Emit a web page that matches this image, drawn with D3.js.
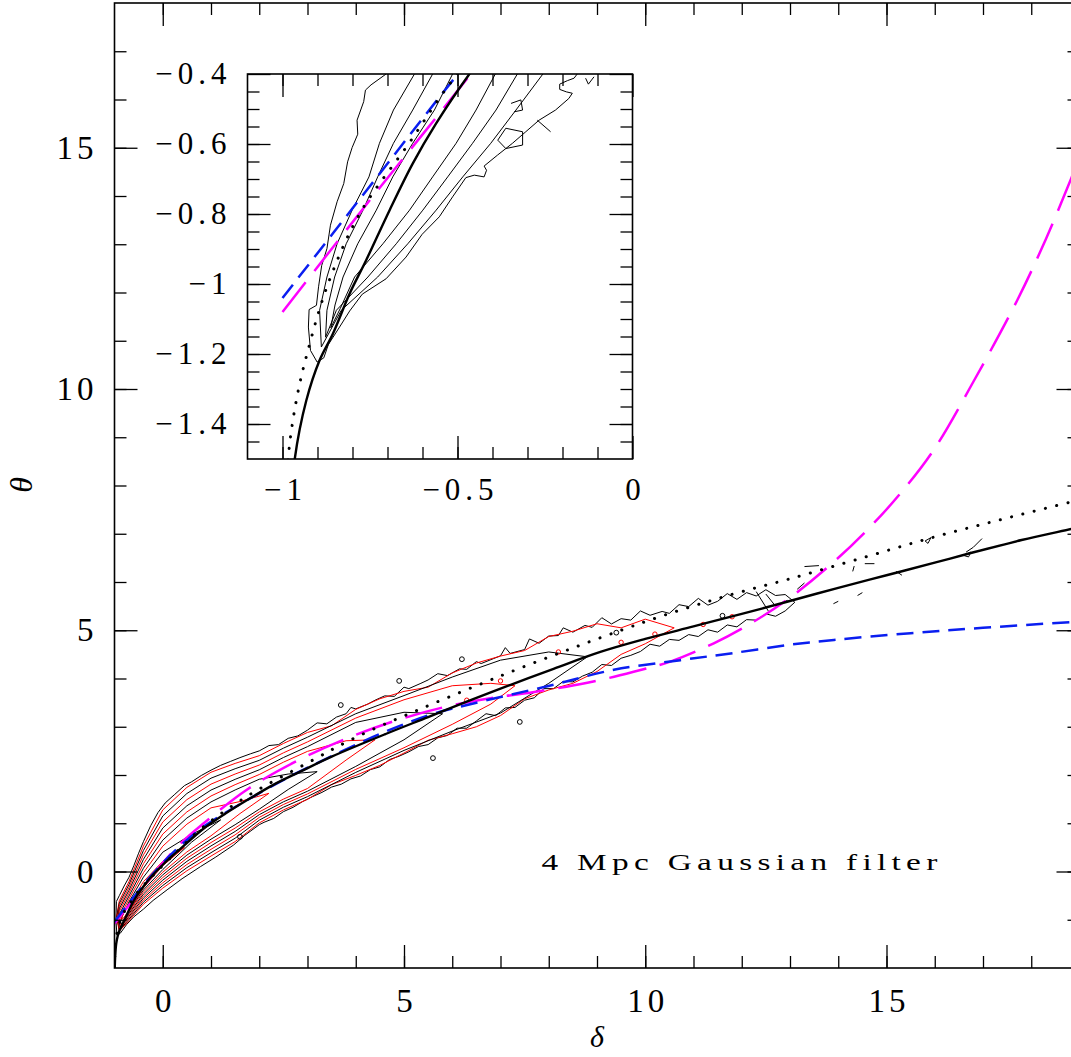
<!DOCTYPE html>
<html>
<head>
<meta charset="utf-8">
<script src="https://cdn.jsdelivr.net/npm/d3@7"></script>
<style>
  body { margin: 0; background: #fff; }
  svg { display: block; }
  .lab { font-family: "Liberation Serif", "DejaVu Serif", serif; fill: #000; }
</style>
</head>
<body>
<svg id="chart" width="1071" height="1057"></svg>
<script>
// ---------- fitted relations theta(delta) ----------
const solidFit = [[-0.995,-2.0],[-0.985,-1.75],[-0.965,-1.5],[-0.932,-1.333],[-0.894,-1.218],[-0.856,-1.142],[-0.808,-1.027],[-0.761,-0.932],[-0.694,-0.789],[-0.628,-0.656],[-0.561,-0.541],[-0.466,-0.4],[-0.3,-0.18],[0,0.14],[0.4,0.5],[0.85,0.89],[1.3,1.2],[1.75,1.48],[2.3,1.8],[2.85,2.07],[3.5,2.38],[4.62,2.85],[5.5,3.2],[6.3,3.52],[7.21,3.87],[8.1,4.2],[9.07,4.55],[10,4.82],[11,5.08],[12,5.34],[12.94,5.59],[14,5.88],[15,6.14],[16,6.4],[16.67,6.58],[17.8,6.87],[18.83,7.1],[19,7.14]];
const dottedFit = [[-0.999,-2.0],[-0.995,-1.8],[-0.984,-1.5],[-0.96,-1.33],[-0.93,-1.2],[-0.87,-1.0],[-0.78,-0.8],[-0.64,-0.6],[-0.5,-0.4],[-0.2,-0.08],[0.3,0.42],[0.85,0.93],[1.75,1.56],[3.0,2.25],[4.0,2.78],[5.2,3.31],[6.5,3.85],[7.5,4.25],[8.52,4.64],[9.5,5.0],[10.3,5.28],[11.15,5.55],[12.0,5.8],[12.94,6.05],[14.5,6.5],[15.98,6.93],[17.4,7.3],[18.83,7.66],[19,7.7]];
const blueFit = [[-1,-1.04],[-0.75,-0.72],[-0.514,-0.419],[-0.25,-0.1],[0.2,0.38],[0.85,0.93],[1.75,1.48],[2.6,1.95],[3.48,2.38],[4.5,2.85],[5.55,3.25],[6.59,3.52],[7.97,3.84],[9.35,4.18],[10.73,4.38],[11.77,4.52],[13.0,4.7],[13.91,4.8],[15.5,4.94],[17.0,5.05],[18.83,5.17],[19,5.18]];
const magentaFit = [[-1,-1.08],[-0.75,-0.76],[-0.462,-0.4],[-0.2,-0.06],[0.37,0.58],[0.85,1.0],[1.75,1.7],[2.8,2.3],[3.82,2.76],[4.9,3.15],[5.89,3.42],[6.79,3.59],[7.76,3.73],[8.8,3.91],[9.76,4.14],[10.52,4.35],[11.42,4.73],[12.2,5.15],[12.94,5.63],[13.91,6.42],[14.67,7.15],[15.3,7.85],[15.98,8.74],[16.8,10.15],[17.71,11.84],[18.3,13.1],[18.83,14.37],[19,14.8]];

// ---------- joint-distribution contours (main panel) ----------
// outermost level, traced as a closed outline (upper edge left to right, then lower edge back)
const outerUpper = [[-0.97,-1.0],[-0.96,-0.62],[-0.9,-0.5],[-0.8,-0.3],[-0.7,-0.12],[-0.6,0.12],[-0.5,0.38],[-0.4,0.62],[-0.25,0.95],[-0.1,1.22],[0.05,1.42],[0.25,1.6],[0.45,1.78],[0.6,1.86],[0.8,1.99],[1.0,2.1],[1.2,2.2],[1.4,2.28],[1.6,2.36],[1.82,2.44],[2.0,2.5],[2.2,2.61],[2.4,2.63],[2.6,2.76],[2.8,2.81],[3.0,2.93],[3.2,3.08],[3.4,3.06],[3.6,3.2],[3.8,3.27],[3.9,3.4],[4.0,3.37],[4.25,3.47],[4.4,3.55],[4.6,3.64],[4.8,3.63],[5.0,3.82],[5.1,3.79],[5.35,3.9],[5.5,3.97],[5.7,4.1],[5.9,4.06],[6.15,4.2],[6.3,4.19],[6.5,4.35],[6.6,4.31],[6.85,4.41],[7.0,4.47],[7.1,4.64],[7.2,4.52],[7.5,4.6],[7.6,4.82],[7.8,4.73],[8.0,4.88],[8.2,4.89],[8.3,5.05],[8.5,4.96],[8.75,5.1],[8.9,5.06],[9.1,5.26],[9.3,5.13],[9.5,5.24],[9.7,5.21],[9.9,5.4],[10.1,5.31],[10.35,5.39],[10.5,5.35],[10.7,5.53],[10.9,5.49],[11.1,5.66],[11.3,5.52],[11.5,5.6],[11.7,5.76],[11.9,5.64],[12.1,5.78],[12.3,5.71],[12.5,5.84],[12.7,5.72],[12.9,5.74],[13.1,5.58]];
const outerLower = [[12.9,5.4],[12.7,5.29],[12.5,5.34],[12.3,5.21],[12.1,5.22],[11.9,5.07],[11.7,5.11],[11.5,4.96],[11.3,5.01],[11.1,4.87],[10.9,4.91],[10.7,4.79],[10.5,4.81],[10.3,4.67],[10.1,4.71],[9.9,4.56],[9.7,4.48],[9.5,4.42],[9.3,4.27],[9.1,4.29],[8.9,4.13],[8.7,4.05],[8.5,3.93],[8.3,3.94],[8.1,3.79],[7.9,3.79],[7.7,3.6],[7.5,3.55],[7.3,3.4],[7.1,3.39],[6.9,3.23],[6.7,3.27],[6.5,3.12],[6.3,2.97],[6.1,2.97],[5.9,2.82],[5.7,2.77],[5.5,2.63],[5.3,2.59],[5.1,2.48],[4.9,2.39],[4.7,2.32],[4.5,2.17],[4.3,2.11],[4.1,1.98],[3.9,1.92],[3.7,1.81],[3.5,1.75],[3.3,1.64],[3.1,1.55],[2.9,1.45],[2.7,1.33],[2.5,1.24],[2.3,1.1],[2.1,1.02],[2.0,0.97],[1.7,0.75],[1.47,0.55],[1.1,0.3],[0.78,0.1],[0.4,-0.15],[0.09,-0.38],[-0.2,-0.6],[-0.4,-0.78],[-0.6,-0.94],[-0.75,-1.1],[-0.88,-1.28],[-0.95,-1.32]];

// inner levels: rows of [delta, upper theta, lower theta], plus the two end points
const innerLevels = [
  { tipL: [-0.96,-0.95], tipR: [10.6,5.05], rows: [[-0.9,-0.605,-1.235],[-0.7,-0.21,-1.02],[-0.4,0.528,-0.678],[0,1.275,-0.345],[0.5,1.743,0.015],[1,2.057,0.32],[1.5,2.24,0.62],[2,2.4,1.007],[2.5,2.653,1.276],[3,2.882,1.496],[3.5,3.02,1.8],[4,3.36,1.992],[4.5,3.58,2.2],[5,3.733,2.455],[5.5,3.82,2.72],[6,4.115,2.855],[6.5,4.32,3.0],[7,4.465,3.232],[7.5,4.58,3.58],[8,4.87,3.763],[8.5,4.98,3.9],[9,5.135,4.145],[9.5,5.05,4.5],[10,5.23,4.72]] },
  { tipL: [-0.95,-0.93], tipR: [8.8,4.45], rows: [[-0.9,-0.66,-1.22],[-0.7,-0.27,-0.99],[-0.4,0.436,-0.636],[0,1.15,-0.29],[0.5,1.616,0.08],[1,1.934,0.39],[1.5,2.13,0.69],[2,2.304,1.064],[2.5,2.556,1.332],[3,2.784,1.552],[4,3.27,2.054],[5,3.646,2.51],[6,4.03,2.91],[7,4.38,3.284],[8,4.55,3.9]] },
  { tipL: [-0.94,-0.96], tipR: [7.3,3.85], rows: [[-0.9,-0.715,-1.205],[-0.7,-0.33,-0.96],[-0.4,0.344,-0.594],[0,1.025,-0.235],[0.5,1.489,0.145],[1,1.811,0.46],[1.5,2.02,0.76],[2,2.206,1.121],[2.5,2.459,1.388],[3,2.686,1.608],[4,3.18,2.116],[5,3.559,2.565],[6,3.85,3.05],[6.8,3.9,3.47]] },
  { tipL: [-0.93,-0.98], tipR: [5.8,3.27], rows: [[-0.9,-0.77,-1.19],[-0.7,-0.39,-0.93],[-0.4,0.252,-0.552],[0,0.9,-0.18],[0.5,1.362,0.21],[1,1.688,0.53],[1.5,1.91,0.83],[2,2.108,1.178],[2.5,2.362,1.444],[3,2.588,1.664],[4,3.09,2.178],[5,3.3,2.73]] },
  { tipL: [-0.92,-1.0], tipR: [4.4,2.73], rows: [[-0.9,-0.825,-1.175],[-0.7,-0.45,-0.9],[-0.4,0.16,-0.51],[0,0.775,-0.125],[0.5,1.235,0.275],[1,1.565,0.6],[1.5,1.8,0.9],[2,2.01,1.235],[2.5,2.265,1.5],[3,2.49,1.72],[3.8,2.71,2.31]] },
  { tipL: [-0.91,-1.02], tipR: [3.2,2.07], rows: [[-0.88,-0.85,-1.15],[-0.7,-0.51,-0.87],[-0.4,0.068,-0.468],[0,0.65,-0.07],[0.5,1.108,0.34],[1,1.442,0.67],[1.5,1.69,0.97],[2,1.912,1.292],[2.6,2.02,1.7]] },
  { tipL: [-0.9,-1.04], tipR: [2.2,1.62], rows: [[-0.86,-0.88,-1.12],[-0.7,-0.57,-0.84],[-0.4,-0.024,-0.426],[0,0.525,-0.015],[0.5,0.981,0.405],[1,1.319,0.74],[1.6,1.45,1.2]] },
  { tipL: [-0.88,-1.05], tipR: [1.2,1.07], rows: [[-0.84,-0.93,-1.1],[-0.7,-0.63,-0.81],[-0.4,-0.116,-0.384],[0,0.4,0.04],[0.6,0.77,0.61]] },
  { tipL: [-0.86,-1.0], tipR: [0.45,0.5], rows: [[-0.8,-0.82,-0.95],[-0.6,-0.54,-0.66],[-0.4,-0.21,-0.34],[0,0.21,0.12]] }
];
const levelColors = ["#000000", "#ff0000"];

// isolated fragments of the outer level at high density
const fragments = [
  [[13.3,6.32],[13.6,6.34]], [[14.3,6.22],[14.33,6.33]], [[14.55,6.38],[14.75,6.38]],
  [[15.2,6.22],[15.32,6.14]], [[15.8,6.85],[15.92,6.92],[15.86,6.8],[15.8,6.85]],
  [[16.65,6.62],[16.8,6.72],[16.98,6.9]], [[16.6,6.55],[16.75,6.62],[16.7,6.52],[16.6,6.55]],
  [[12.3,5.8],[12.55,5.4]], [[12.5,5.75],[12.7,5.5],[12.95,5.62]], [[13.15,5.85],[13.3,5.98]],
  [[13.9,5.55],[14.0,5.6]], [[14.4,5.72],[14.5,5.78]]
];
// small closed islands of the first two levels
const blackSpecks = [[3.69,3.45],[4.9,3.95],[6.2,4.4],[1.6,0.72],[5.6,2.35],[7.4,3.1],[9.4,4.95],[11.6,5.3]];
const redSpecks = [[7.0,3.95],[8.2,4.55],[9.5,4.75],[10.2,4.92],[11.2,5.12],[11.8,5.28],[6.3,3.55]];

// ---------- inset contours ----------
const insetContours = [
  [[-0.704,-0.4],[-0.747,-0.431],[-0.763,-0.446],[-0.768,-0.479],[-0.787,-0.532],[-0.785,-0.572],[-0.801,-0.61],[-0.814,-0.651],[-0.825,-0.713],[-0.844,-0.765],[-0.863,-0.832],[-0.873,-0.899],[-0.888,-0.947],[-0.897,-1.008],[-0.903,-1.061],[-0.924,-1.073],[-0.926,-1.123],[-0.92,-1.19],[-0.901,-1.223],[-0.882,-1.211],[-0.869,-1.173],[-0.837,-1.123],[-0.808,-1.077],[-0.772,-1.029],[-0.704,-0.985],[-0.647,-0.923],[-0.601,-0.858],[-0.552,-0.808],[-0.514,-0.751],[-0.476,-0.696],[-0.452,-0.689],[-0.424,-0.694],[-0.417,-0.675],[-0.424,-0.663],[-0.386,-0.632],[-0.343,-0.598],[-0.305,-0.565],[-0.267,-0.532],[-0.22,-0.503],[-0.182,-0.47],[-0.172,-0.455],[-0.189,-0.451],[-0.208,-0.444],[-0.208,-0.429],[-0.186,-0.419],[-0.167,-0.412],[-0.158,-0.4]],
  [[-0.623,-0.4],[-0.683,-0.503],[-0.723,-0.598],[-0.753,-0.694],[-0.801,-0.789],[-0.844,-0.885],[-0.873,-0.98],[-0.894,-1.075],[-0.889,-1.18],[-0.832,-1.075],[-0.728,-0.98],[-0.642,-0.885],[-0.561,-0.789],[-0.485,-0.694],[-0.405,-0.598],[-0.333,-0.503],[-0.256,-0.4]],
  [[-0.571,-0.4],[-0.628,-0.503],[-0.683,-0.598],[-0.728,-0.694],[-0.77,-0.789],[-0.818,-0.885],[-0.851,-0.98],[-0.873,-1.075],[-0.877,-1.152],[-0.846,-1.075],[-0.756,-0.98],[-0.675,-0.885],[-0.599,-0.789],[-0.528,-0.694],[-0.457,-0.598],[-0.39,-0.503],[-0.329,-0.4]],
  [[-0.514,-0.4],[-0.566,-0.503],[-0.628,-0.598],[-0.685,-0.694],[-0.732,-0.789],[-0.785,-0.885],[-0.827,-0.98],[-0.85,-1.06],[-0.862,-1.125],[-0.835,-1.07],[-0.794,-0.98],[-0.713,-0.885],[-0.637,-0.789],[-0.571,-0.694],[-0.504,-0.598],[-0.447,-0.503],[-0.392,-0.4]],
  [[-0.347,-0.484],[-0.319,-0.474],[-0.314,-0.503],[-0.338,-0.508]],
  [[-0.385,-0.589],[-0.362,-0.555],[-0.314,-0.565],[-0.314,-0.603],[-0.362,-0.613],[-0.385,-0.589]],
  [[-0.272,-0.532],[-0.234,-0.565]],
  [[-0.134,-0.412],[-0.126,-0.429],[-0.11,-0.408]]
];

// ---------- axes ----------
const mainXMajor = [0, 5, 10, 15];
const mainXMinor = d3.range(0, 19);
const mainYMajor = [0, 5, 10, 15];
const mainYMinor = d3.range(-1, 18);
const mainXLabels = ["0", "5", "10", "15"];
const mainYLabels = ["0", "5", "10", "15"];
const insetXMajor = [-1, -0.5, 0];
const insetXMinor = [-1, -0.9, -0.8, -0.7, -0.6, -0.5, -0.4, -0.3, -0.2, -0.1];
const insetYMajor = [-1.4, -1.2, -1, -0.8, -0.6, -0.4];
const insetYMinor = [-1.45, -1.4, -1.35, -1.3, -1.25, -1.2, -1.15, -1.1, -1.05, -1, -0.95, -0.9, -0.85, -0.8, -0.75, -0.7, -0.65, -0.6, -0.55, -0.5, -0.45];
const insetXLabels = ["\u22121", "\u22120.5", "0"];
const insetYLabels = ["\u22121.4", "\u22121.2", "\u22121", "\u22120.8", "\u22120.6", "\u22120.4"];

const svg = d3.select("#chart");

const main = { left: 114.5, top: 3, size: 965 };
const x = d3.scaleLinear().domain([-1, 19]).range([main.left, main.left + main.size]);
const y = d3.scaleLinear().domain([-2, 18]).range([main.top + main.size, main.top]);

const ins = { left: 247.5, top: 74, size: 385 };
const xi = d3.scaleLinear().domain([-1.1, 0]).range([ins.left, ins.left + ins.size]);
const yi = d3.scaleLinear().domain([-1.5, -0.4]).range([ins.top + ins.size, ins.top]);

const defs = svg.append("defs");
defs.append("clipPath").attr("id", "clipMain").append("rect")
  .attr("x", main.left).attr("y", main.top).attr("width", main.size).attr("height", main.size);
defs.append("clipPath").attr("id", "clipInset").append("rect")
  .attr("x", ins.left).attr("y", ins.top).attr("width", ins.size).attr("height", ins.size);

function drawTicks(g, xs, ys, box, spec) {
  const bottom = box.top + box.size, right = box.left + box.size;
  const tidy = s => s.call(a => a.select(".domain").remove())
    .call(a => a.selectAll(".tick line").attr("stroke", "#000").attr("stroke-width", 1.3));
  // minor ticks on all four sides
  g.append("g").attr("transform", `translate(0,${bottom})`)
    .call(d3.axisBottom(xs).tickValues(spec.xMinor).tickSize(-12).tickFormat("")).call(tidy);
  g.append("g").attr("transform", `translate(0,${box.top})`)
    .call(d3.axisTop(xs).tickValues(spec.xMinor).tickSize(-12).tickFormat("")).call(tidy);
  g.append("g").attr("transform", `translate(${box.left},0)`)
    .call(d3.axisLeft(ys).tickValues(spec.yMinor).tickSize(-12).tickFormat("")).call(tidy);
  g.append("g").attr("transform", `translate(${right},0)`)
    .call(d3.axisRight(ys).tickValues(spec.yMinor).tickSize(-12).tickFormat("")).call(tidy);
  // major ticks, labelled on bottom and left
  const bx = g.append("g").attr("transform", `translate(0,${bottom})`)
    .call(d3.axisBottom(xs).tickValues(spec.xMajor).tickSize(-23).tickPadding(spec.xPad)
      .tickFormat((d, i) => spec.xLabels[i])).call(tidy);
  g.append("g").attr("transform", `translate(0,${box.top})`)
    .call(d3.axisTop(xs).tickValues(spec.xMajor).tickSize(-23).tickFormat("")).call(tidy);
  const ly = g.append("g").attr("transform", `translate(${box.left},0)`)
    .call(d3.axisLeft(ys).tickValues(spec.yMajor).tickSize(-23).tickPadding(spec.yPad)
      .tickFormat((d, i) => spec.yLabels[i])).call(tidy);
  g.append("g").attr("transform", `translate(${right},0)`)
    .call(d3.axisRight(ys).tickValues(spec.yMajor).tickSize(-23).tickFormat("")).call(tidy);
  [bx, ly].forEach(a => a.selectAll(".tick text")
    .attr("class", "lab").attr("fill", "#000")
    .style("font-family", '"Liberation Serif", serif')
    .style("font-size", spec.font + "px")
    .style("letter-spacing", spec.spacing + "px"));
  bx.selectAll(".tick text").attr("dx", spec.spacing / 2);
}

const line = (xs, ys) => d3.line().x(d => xs(d[0])).y(d => ys(d[1]));

// ---------- main panel ----------
svg.append("rect").attr("x", main.left).attr("y", main.top)
  .attr("width", main.size).attr("height", main.size).attr("fill", "#fff");

const gm = svg.append("g").attr("clip-path", "url(#clipMain)");

const closed = d3.line().x(d => x(d[0])).y(d => y(d[1])).curve(d3.curveLinearClosed);
gm.append("path").attr("d", closed(outerUpper.concat(outerLower)))
  .attr("fill", "none").attr("stroke", levelColors[0]).attr("stroke-width", 1);
innerLevels.forEach((lv, k) => {
  const pts = [lv.tipL].concat(lv.rows.map(r => [r[0], r[1]]), [lv.tipR],
    lv.rows.slice().reverse().map(r => [r[0], r[2]]));
  gm.append("path").attr("d", closed(pts)).attr("fill", "none")
    .attr("stroke", levelColors[(k + 1) % 2]).attr("stroke-width", 1);
});
fragments.forEach(f => gm.append("path").attr("d", line(x, y)(f))
  .attr("fill", "none").attr("stroke", "#000").attr("stroke-width", 1));
gm.selectAll("circle.bspeck").data(blackSpecks).join("circle").attr("class", "bspeck")
  .attr("cx", d => x(d[0])).attr("cy", d => y(d[1])).attr("r", 2.4)
  .attr("fill", "none").attr("stroke", levelColors[0]).attr("stroke-width", 1);
gm.selectAll("circle.rspeck").data(redSpecks).join("circle").attr("class", "rspeck")
  .attr("cx", d => x(d[0])).attr("cy", d => y(d[1])).attr("r", 2.2)
  .attr("fill", "none").attr("stroke", levelColors[1]).attr("stroke-width", 1);

function drawFits(g, xs, ys) {
  const smooth = line(xs, ys).curve(d3.curveCatmullRom.alpha(0.5));
  g.append("path").attr("d", smooth(magentaFit)).attr("fill", "none")
    .attr("stroke", "#ff00ff").attr("stroke-width", 2.5).attr("stroke-dasharray", "38 14");
  g.append("path").attr("d", smooth(blueFit)).attr("fill", "none")
    .attr("stroke", "#0a1ef0").attr("stroke-width", 2.5).attr("stroke-dasharray", "17 9");
  g.append("path").attr("d", smooth(dottedFit)).attr("fill", "none")
    .attr("stroke", "#000").attr("stroke-width", 3).attr("stroke-linecap", "round")
    .attr("stroke-dasharray", "0.1 11.5");
  g.append("path").attr("d", smooth(solidFit)).attr("fill", "none")
    .attr("stroke", "#000").attr("stroke-width", 2.4);
}
drawFits(gm, x, y);

svg.append("rect").attr("x", main.left).attr("y", main.top)
  .attr("width", main.size).attr("height", main.size)
  .attr("fill", "none").attr("stroke", "#000").attr("stroke-width", 1.6);

drawTicks(svg.append("g"), x, y, main, {
  xMajor: mainXMajor, xMinor: mainXMinor, yMajor: mainYMajor, yMinor: mainYMinor,
  xLabels: mainXLabels, yLabels: mainYLabels, xPad: 21, yPad: 17, font: 33, spacing: 4
});

// axis titles and annotation
svg.append("text").attr("class", "lab").attr("x", 597).attr("y", 1047)
  .attr("text-anchor", "middle").style("font-size", "30px").style("font-style", "italic").text("\u03b4");
svg.append("text").attr("class", "lab").attr("transform", "translate(32,485) rotate(-90)")
  .attr("text-anchor", "middle").style("font-size", "32px").style("font-style", "italic").text("\u03b8");
svg.append("text").attr("class", "lab").attr("transform", "translate(541.5,870) scale(1.45,1)")
  .attr("x", 0).attr("y", 0).attr("textLength", 273).attr("lengthAdjust", "spacing")
  .style("font-size", "23px").text("4 Mpc Gaussian filter");

// ---------- inset ----------
svg.append("rect").attr("x", ins.left).attr("y", ins.top)
  .attr("width", ins.size).attr("height", ins.size).attr("fill", "#fff");
const gi = svg.append("g").attr("clip-path", "url(#clipInset)");
insetContours.forEach(c => gi.append("path").attr("d", line(xi, yi)(c))
  .attr("fill", "none").attr("stroke", "#000").attr("stroke-width", 1));
drawFits(gi, xi, yi);
svg.append("rect").attr("x", ins.left).attr("y", ins.top)
  .attr("width", ins.size).attr("height", ins.size)
  .attr("fill", "none").attr("stroke", "#000").attr("stroke-width", 1.6);
drawTicks(svg.append("g"), xi, yi, ins, {
  xMajor: insetXMajor, xMinor: insetXMinor, yMajor: insetYMajor, yMinor: insetYMinor,
  xLabels: insetXLabels, yLabels: insetYLabels, xPad: 19, yPad: 16, font: 31, spacing: 5
});
</script>
</body>
</html>
